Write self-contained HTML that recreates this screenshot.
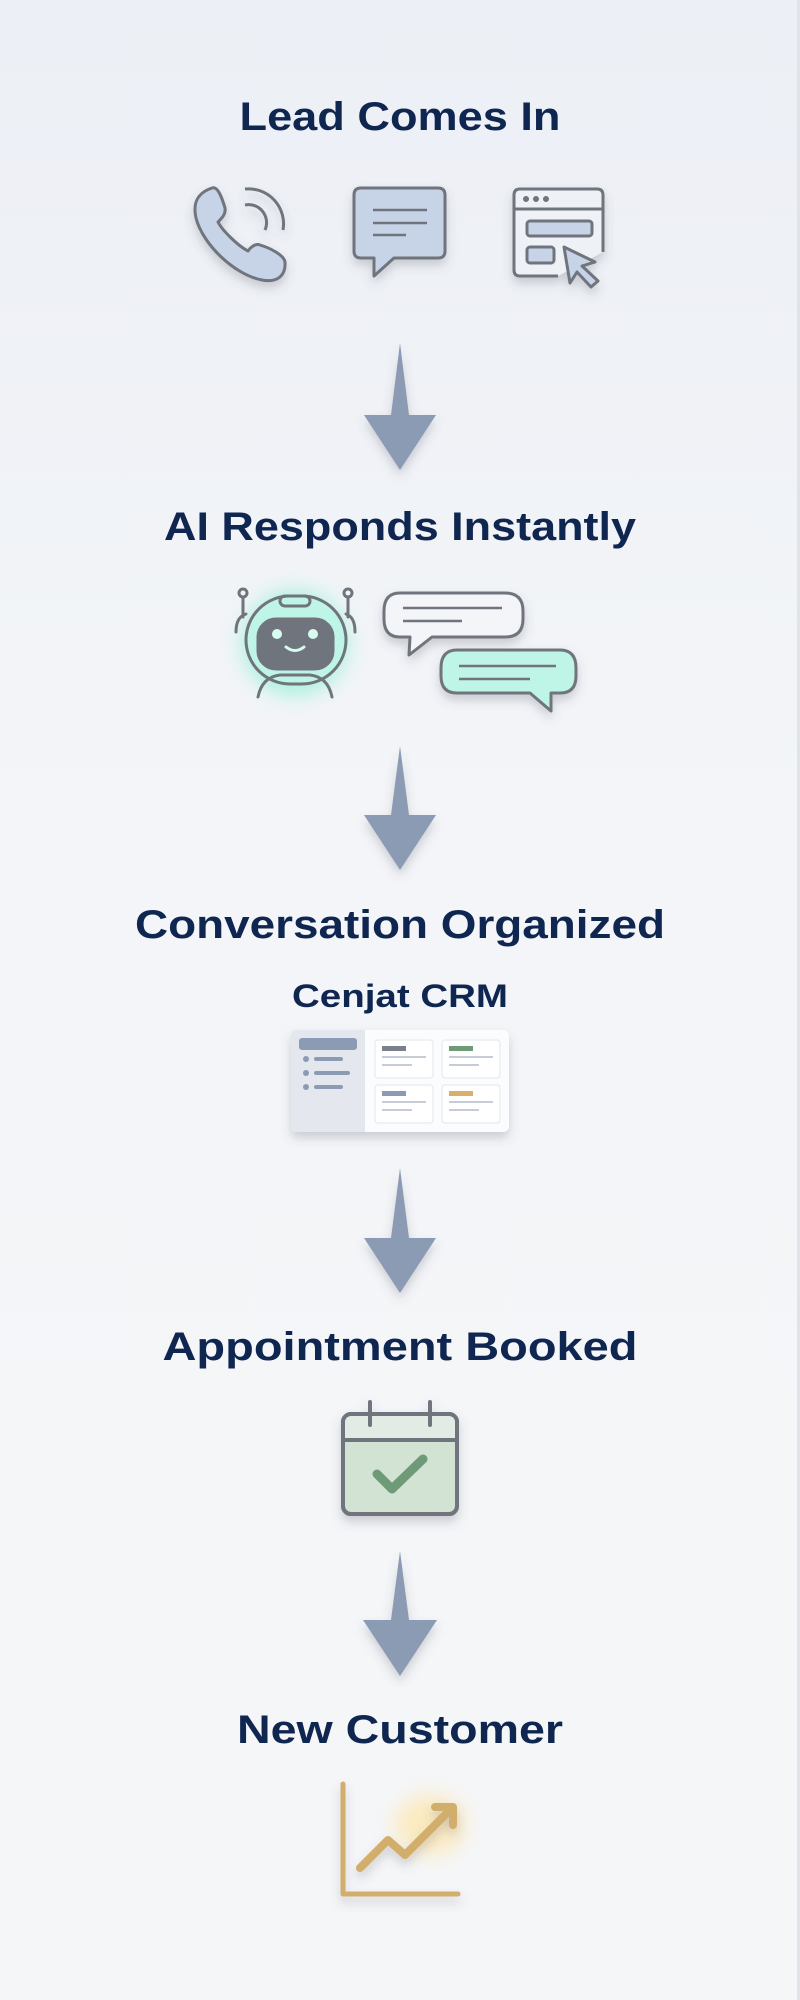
<!DOCTYPE html>
<html><head><meta charset="utf-8"><style>
html,body{margin:0;padding:0}
body{width:800px;height:2000px;background:linear-gradient(180deg,#eceff5 0%,#f3f5f8 40%,#f5f6f8 100%);overflow:hidden}
svg{display:block}
text{font-family:"Liberation Sans",sans-serif;font-weight:bold;fill:#0f2650;text-anchor:middle}
</style></head><body>
<svg width="800" height="2000" viewBox="0 0 800 2000">
<defs>
<filter id="sh" x="-30%" y="-30%" width="160%" height="170%"><feDropShadow dx="0" dy="6" stdDeviation="5" flood-color="#556" flood-opacity="0.25"/></filter>
<filter id="glow" x="-50%" y="-50%" width="200%" height="200%"><feGaussianBlur stdDeviation="10"/></filter>
</defs>
<rect x="797" y="0" width="3" height="2000" fill="#dfe3ea"/>
<!-- titles -->
<text x="400" y="130" font-size="40" textLength="321" lengthAdjust="spacingAndGlyphs">Lead Comes In</text>
<text x="400" y="540" font-size="40" textLength="472" lengthAdjust="spacingAndGlyphs">AI Responds Instantly</text>
<text x="400" y="938" font-size="40" textLength="530" lengthAdjust="spacingAndGlyphs">Conversation Organized</text>
<text x="400" y="1007" font-size="32" textLength="216" lengthAdjust="spacingAndGlyphs">Cenjat CRM</text>
<text x="400" y="1360" font-size="40" textLength="475" lengthAdjust="spacingAndGlyphs">Appointment Booked</text>
<text x="400" y="1743" font-size="40" textLength="326" lengthAdjust="spacingAndGlyphs">New Customer</text>

<!-- arrows -->
<g fill="#8a9bb3" filter="url(#sh)">
<polygon points="400,343 409,415 436,415 400,470 364,415 391,415"/>
<polygon points="400,746 409,815 436,815 400,870 364,815 391,815"/>
<polygon points="400,1168 409,1238 436,1238 400,1293 364,1238 391,1238"/>
<polygon points="400,1551 409,1620 437,1620 400,1676 363,1620 391,1620"/>
</g>

<!-- phone -->
<g filter="url(#sh)" stroke="#6f747d" stroke-width="3" stroke-linejoin="round" fill="#c7d4e7">
<path d="M212,188 C200,192 192,200 196,218 C203,245 235,275 262,280 C278,283 286,275 285,262 C284,255 270,248 260,245 C255,243 250,248 248,251 C238,246 222,230 218,222 C222,218 226,214 225,208 C222,198 218,186 212,188 Z"/>
<path d="M245,205 A18,18 0 0 1 265,230" fill="none"/>
<path d="M245,189 A35,35 0 0 1 283,230" fill="none"/>
</g>
<!-- chat -->
<g filter="url(#sh)" stroke="#6f747d" stroke-width="3" stroke-linejoin="round">
<path d="M361,188 H438 Q445,188 445,195 V251 Q445,258 438,258 H394 L374,276 V258 H361 Q354,258 354,251 V195 Q354,188 361,188 Z" fill="#c7d4e7"/>
<path d="M373,210 H427 M373,223 H427 M373,235 H406" stroke-width="2.5"/>
</g>
<!-- browser -->
<g filter="url(#sh)" stroke="#6f747d" stroke-width="3" stroke-linejoin="round">
<path d="M558,276 H520 Q514,276 514,270 V195 Q514,189 520,189 H597 Q603,189 603,195 V252" fill="#eef1f6"/>
<path d="M514,209 H603"/>
<circle cx="526" cy="199" r="1.5" fill="#6f747d"/><circle cx="536" cy="199" r="1.5" fill="#6f747d"/><circle cx="546" cy="199" r="1.5" fill="#6f747d"/>
<rect x="527" y="221" width="65" height="15" rx="3" fill="#c7d4e7"/>
<rect x="527" y="247" width="27" height="16" rx="3" fill="#c7d4e7"/>
<path d="M564,247 L595,262 L582,266 L598,281 L591,287 L577,272 L570,283 Z" fill="#c7d4e7"/>
</g>

<!-- robot -->
<ellipse cx="295" cy="643" rx="52" ry="52" fill="#8ef0d2" opacity="0.75" filter="url(#glow)"/>
<g stroke="#6f747d" stroke-width="3" fill="none" stroke-linecap="round">
<circle cx="243" cy="593" r="4"/><circle cx="348" cy="593" r="4"/>
<path d="M243,597 V617 M348,597 V617"/>
<rect x="246" y="596" width="100" height="88" rx="44" fill="#bff5e6"/>
<rect x="280" y="596" width="30" height="10" rx="5"/>
<rect x="258" y="619" width="75" height="50" rx="18" fill="#6f747d"/>
<path d="M236,632 Q236,617 246,614 M355,632 Q355,617 346,614"/>
<path d="M258,697 Q262,677 280,675 H310 Q328,677 332,697"/>
</g>
<circle cx="277" cy="634" r="5" fill="#d8fbef"/><circle cx="313" cy="634" r="5" fill="#d8fbef"/>
<path d="M286,647 Q295,654 304,647" stroke="#d8fbef" stroke-width="3" fill="none" stroke-linecap="round"/>
<!-- bubbles -->
<g filter="url(#sh)" stroke="#6f747d" stroke-width="3" stroke-linejoin="round">
<path d="M400,593 H505 Q523,593 523,611 V619 Q523,637 505,637 H432 L409,655 L410,637 H400 Q384,637 384,619 V611 Q384,593 400,593 Z" fill="#f3f5f8"/>
<path d="M403,608 H502 M403,621 H462" stroke-width="2.5"/>
<path d="M457,650 H560 Q576,650 576,668 V676 Q576,693 560,693 H551 L551,711 L530,693 H457 Q441,693 441,676 V668 Q441,650 457,650 Z" fill="#bff5e6"/>
<path d="M459,666 H556 M459,679 H530" stroke-width="2.5"/>
</g>

<!-- CRM -->
<g filter="url(#sh)">
<rect x="291" y="1030" width="218" height="102" rx="6" fill="#fbfcfd"/>
<path d="M297,1030 H365 V1132 H297 Q291,1132 291,1126 V1036 Q291,1030 297,1030 Z" fill="#e4e8ee"/>
<rect x="299" y="1038" width="58" height="12" rx="3" fill="#8a9bb3"/>
<g fill="#8a9bb3"><circle cx="306" cy="1059" r="3"/><circle cx="306" cy="1073" r="3"/><circle cx="306" cy="1087" r="3"/>
<rect x="314" y="1057" width="29" height="4" rx="2"/><rect x="314" y="1071" width="36" height="4" rx="2"/><rect x="314" y="1085" width="29" height="4" rx="2"/></g>
<rect x="375" y="1040" width="58" height="38" rx="3" fill="#fff" stroke="#e3e6ea"/>
<rect x="442" y="1040" width="58" height="38" rx="3" fill="#fff" stroke="#e3e6ea"/>
<rect x="375" y="1085" width="58" height="38" rx="3" fill="#fff" stroke="#e3e6ea"/>
<rect x="442" y="1085" width="58" height="38" rx="3" fill="#fff" stroke="#e3e6ea"/>
<rect x="382" y="1046" width="24" height="5" fill="#7a818c"/><rect x="449" y="1046" width="24" height="5" fill="#6e9a78"/>
<rect x="382" y="1091" width="24" height="5" fill="#8a9bb3"/><rect x="449" y="1091" width="24" height="5" fill="#d9b06a"/>
<g fill="#c7cdd6"><rect x="382" y="1056" width="44" height="2"/><rect x="382" y="1064" width="30" height="2"/><rect x="449" y="1056" width="44" height="2"/><rect x="449" y="1064" width="30" height="2"/>
<rect x="382" y="1101" width="44" height="2"/><rect x="382" y="1109" width="30" height="2"/><rect x="449" y="1101" width="44" height="2"/><rect x="449" y="1109" width="30" height="2"/></g>
</g>

<!-- calendar -->
<g filter="url(#sh)" stroke="#6f747d" stroke-width="4" stroke-linecap="round">
<rect x="343" y="1414" width="114" height="100" rx="8" fill="#d2e3d3"/>
<path d="M343,1414 H457 V1440 H343 Z" fill="#e3ece4" stroke-width="0"/>
<rect x="343" y="1414" width="114" height="100" rx="8" fill="none"/>
<path d="M343,1440 H457 M370,1402 V1425 M430,1402 V1425"/>
<path d="M377,1474 L392,1489 L423,1459" stroke="#6e9a78" stroke-width="9" fill="none" stroke-linejoin="round"/>
</g>

<!-- chart -->
<ellipse cx="430" cy="1825" rx="35" ry="30" fill="#ffe6a8" opacity="0.7" filter="url(#glow)"/>
<g filter="url(#sh)" stroke="#d2ae6c" stroke-linecap="round" stroke-linejoin="round" fill="none">
<path d="M343,1784 V1894 H458" stroke-width="5"/>
<path d="M360,1868 L388,1840 L405,1855 L448,1812" stroke-width="8"/>
<path d="M435,1807 H453 V1825" stroke-width="8"/>
</g>
</svg>
</body></html>
